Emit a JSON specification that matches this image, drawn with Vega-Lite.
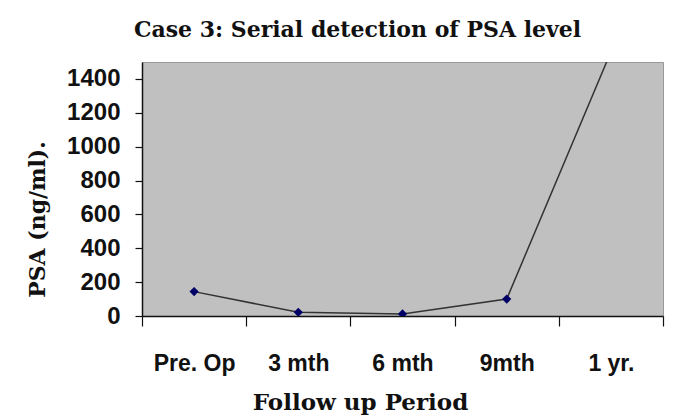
{
  "$schema": "https://vega.github.io/schema/vega-lite/v6.json",
  "autosize": "none",
  "width": 521,
  "height": 254,
  "padding": {"left": 142, "top": 62, "right": 17, "bottom": 103},
  "background": "white",
  "title": {
    "text": "Case 3: Serial detection of PSA level",
    "font": "DejaVu Serif",
    "fontWeight": "bold",
    "fontSize": 22,
    "color": "#111111",
    "anchor": "middle",
    "frame": "group",
    "baseline": "alphabetic",
    "offset": 25,
    "dx": -45,
    "dy": 22
  },
  "data": {
    "values": [
      {"period": "Pre. Op", "psa": 144},
      {"period": "3 mth", "psa": 22},
      {"period": "6 mth", "psa": 12},
      {"period": "9mth", "psa": 100},
      {"period": "1 yr.", "psa": 1560}
    ]
  },
  "encoding": {
    "x": {
      "field": "period",
      "type": "nominal",
      "sort": null,
      "scale": {"type": "band", "paddingInner": 0, "paddingOuter": 0},
      "axis": {
        "title": "Follow up Period",
        "labelAngle": 0,
        "tickBand": "extent",
        "tickSize": 10,
        "tickColor": "#111111",
        "tickWidth": 1.2,
        "domainColor": "#111111",
        "domainWidth": 1.5,
        "labelFont": "Liberation Sans",
        "labelFontWeight": "bold",
        "labelFontSize": 23,
        "labelColor": "#111111",
        "labelPadding": 26,
        "titleFont": "DejaVu Serif",
        "titleFontWeight": "bold",
        "titleFontSize": 23,
        "titleColor": "#111111",
        "titleBaseline": "alphabetic",
        "titleAlign": "center",
        "titleX": 218,
        "titleY": 93,
        "grid": false
      }
    },
    "y": {
      "field": "psa",
      "type": "quantitative",
      "scale": {"domain": [0, 1500], "nice": false, "zero": true},
      "axis": {
        "title": "PSA (ng/ml).",
        "values": [0, 200, 400, 600, 800, 1000, 1200, 1400],
        "format": "d",
        "tickSize": 7,
        "tickColor": "#111111",
        "tickWidth": 1.2,
        "domainColor": "#111111",
        "domainWidth": 1.5,
        "labelFont": "Liberation Sans",
        "labelFontWeight": "bold",
        "labelFontSize": 24,
        "labelColor": "#111111",
        "labelPadding": 15,
        "titleFont": "DejaVu Serif",
        "titleFontWeight": "bold",
        "titleFontSize": 22,
        "titleColor": "#111111",
        "titleAngle": -90,
        "titleBaseline": "middle",
        "titleAlign": "center",
        "titleX": -105,
        "titleY": 157,
        "grid": false
      }
    }
  },
  "layer": [
    {"mark": {"type": "line", "color": "#333333", "strokeWidth": 1.5, "clip": true}},
    {"mark": {"type": "point", "shape": "diamond", "filled": true, "color": "#000066", "size": 85, "opacity": 1, "clip": true}}
  ],
  "config": {
    "view": {"fill": "#c0c0c0", "stroke": "#999999", "strokeWidth": 1}
  }
}
